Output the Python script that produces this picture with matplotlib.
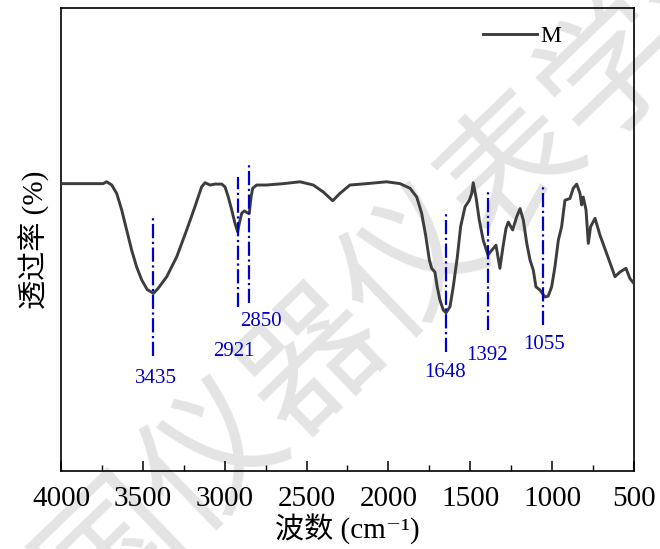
import matplotlib
matplotlib.use('Agg')
import matplotlib.pyplot as plt
from matplotlib.ticker import MultipleLocator

plt.rcParams['font.family'] = ['Liberation Serif', 'Noto Sans CJK SC', 'DejaVu Serif']
plt.rcParams['axes.unicode_minus'] = False

# FTIR spectrum of sample M (wavenumber cm-1, transmittance a.u.)
wavenumber = [4000, 3884, 3743, 3721, 3690, 3660, 3629, 3599, 3568, 3538,
              3507, 3473, 3435, 3406, 3354, 3293, 3232, 3182, 3141, 3120,
              3090, 3059, 3018, 2998, 2978, 2957, 2937, 2921, 2911, 2896,
              2880, 2862, 2850, 2839, 2829, 2805, 2744, 2642, 2540, 2459,
              2398, 2340, 2296, 2235, 2133, 2011, 1929, 1868, 1827, 1797,
              1771, 1750, 1736, 1716, 1702, 1685, 1665, 1648, 1624, 1604,
              1579, 1559, 1532, 1506, 1491, 1482, 1465, 1445, 1421, 1392,
              1369, 1343, 1319, 1300, 1282, 1268, 1241, 1217, 1196, 1176,
              1155, 1135, 1115, 1099, 1074, 1044, 1024, 1003, 983, 962,
              942, 922, 891, 871, 850, 830, 820, 810, 793, 779,
              765, 738, 708, 667, 616, 586, 549, 525, 500]
transmittance = [62.1, 62.1, 62.1, 62.5, 61.8, 60.0, 56.4, 52.1, 47.7, 44.1,
                 41.3, 39.2, 38.4, 39.5, 42.0, 46.3, 52.1, 57.1, 61.4, 62.3,
                 61.8, 62.0, 62.0, 61.4, 59.2, 56.4, 53.5, 51.7, 53.5, 55.7,
                 56.2, 55.8, 55.7, 59.2, 61.1, 61.8, 61.8, 62.1, 62.5, 61.8,
                 60.3, 58.4, 60.0, 61.8, 62.1, 62.5, 62.1, 61.1, 59.2, 55.7,
                 50.6, 45.6, 43.8, 43.0, 39.8, 36.9, 34.8, 34.2, 35.5, 39.8,
                 46.3, 52.8, 57.1, 58.5, 60.0, 62.3, 59.2, 54.2, 49.9, 46.7,
                 47.7, 48.8, 43.8, 48.5, 52.4, 53.8, 52.1, 54.9, 56.7, 54.2,
                 49.2, 45.6, 43.4, 39.8, 39.1, 37.6, 37.8, 39.8, 44.1, 49.9,
                 52.8, 58.5, 58.9, 61.1, 62.0, 60.0, 57.5, 59.2, 56.4, 49.2,
                 52.8, 54.6, 51.0, 47.0, 42.0, 43.0, 43.8, 41.6, 40.5]

# marked peaks: position, dash-dot line extent, label placement
peaks = ['3435', '2921', '2850', '1648', '1392', '1055']
peak_pos = [3435, 2921, 2850, 1648, 1392, 1055]
line_top = [54.9, 63.5, 66.3, 55.7, 60.3, 61.3]
line_bot = [24.8, 35.4, 36.3, 25.7, 30.5, 31.5]
label_x = [3422, 2946, 2778, 1655, 1398, 1050]
label_y = [20.1, 25.9, 32.4, 21.4, 25.0, 27.4]

fig = plt.figure(figsize=(6.6, 5.49), dpi=100)
ax = fig.add_axes([0.0924, 0.142, 0.8682, 0.843])
ax.set_facecolor('none')

# faint watermark behind the chart
fig.text(0.55, 0.44, '中国仪器仪表学会', rotation=44, fontsize=100,
         color='#e4e4e4', ha='center', va='center', zorder=-1,
         family='Noto Sans CJK SC')

ax.plot(wavenumber, transmittance, color='#3d3d3d', linewidth=2.1, label='M',
        solid_joinstyle='round', zorder=3)

for name, x, t, b, lx, ly in zip(peaks, peak_pos, line_top, line_bot, label_x, label_y):
    ax.plot([x, x], [b, t], color='#0000cc', linestyle='-.', linewidth=1.6, zorder=4)
    ax.text(lx, ly, name, color='#0000cc', fontsize=15, ha='center', va='center')

ax.set_xlim(4000, 500)
ax.set_ylim(0, 100)
ax.xaxis.set_major_locator(MultipleLocator(500))
ax.xaxis.set_minor_locator(MultipleLocator(250))
ax.tick_params(axis='x', which='major', direction='in', length=7, width=1.1,
               labelsize=21, pad=11)
ax.tick_params(axis='x', which='minor', direction='in', length=4, width=1.0)
ax.set_yticks([])
for s in ax.spines.values():
    s.set_linewidth(1.2)

ax.set_xlabel('波数 (cm⁻¹)', fontsize=21, labelpad=1)
ax.set_ylabel('透过率 (%)', fontsize=21, labelpad=8)

ax.legend(loc='center left', bbox_to_anchor=(0.7365, 0.9395), frameon=False,
          fontsize=17, handlelength=2.3, handletextpad=0.15,
          borderpad=0, borderaxespad=0)

plt.savefig('out.png', dpi=100)
plt.close()
